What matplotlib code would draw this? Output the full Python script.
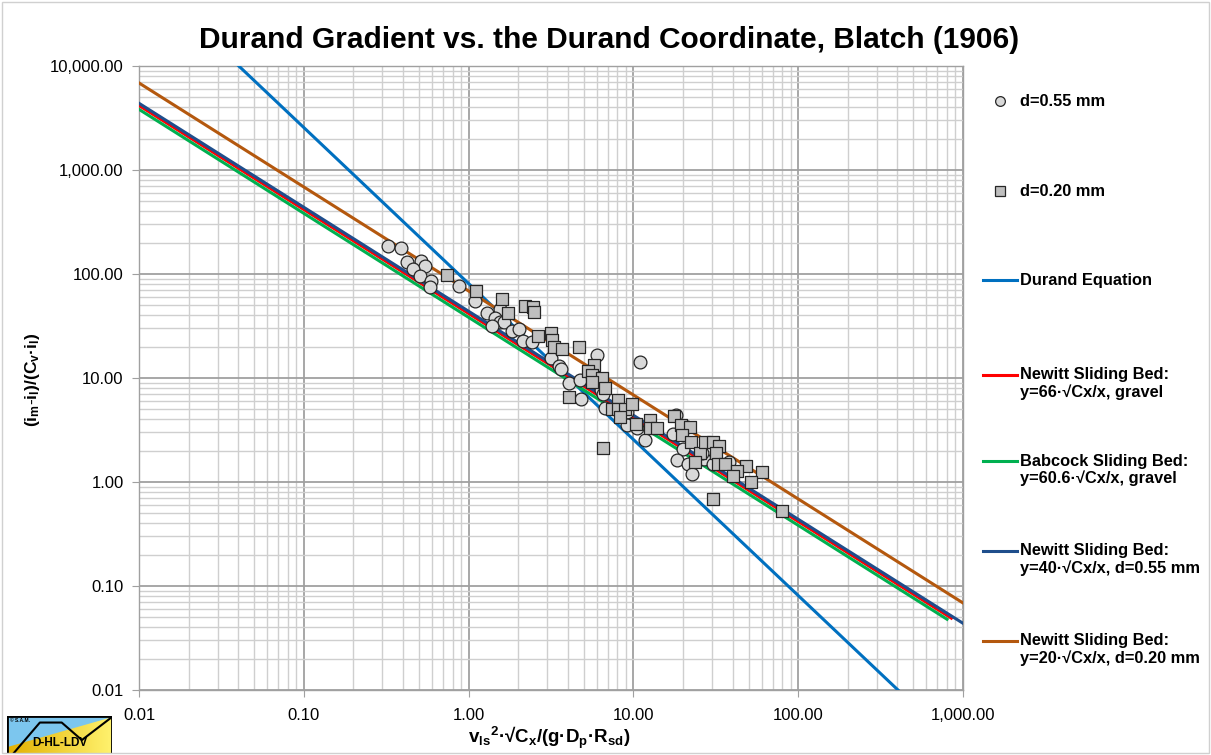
import numpy as np
import matplotlib
matplotlib.use("Agg")
import matplotlib.pyplot as plt
from matplotlib.lines import Line2D
from matplotlib.patches import Rectangle, Polygon
from matplotlib.ticker import FuncFormatter, LogLocator, NullFormatter

plt.rcParams['font.family'] = ['Liberation Sans', 'DejaVu Sans']
plt.rcParams['mathtext.fontset'] = 'custom'
plt.rcParams['mathtext.rm'] = 'Liberation Sans'
plt.rcParams['mathtext.bf'] = 'Liberation Sans:bold'

# Blatch (1906) measurements, d=0.55 mm
x_055 = [0.326, 0.389, 0.425, 0.515, 0.544, 0.458, 0.510, 0.589, 0.584, 0.875,
         1.095, 1.30, 1.54, 1.45, 1.54, 1.65, 1.39, 1.83, 2.03, 2.15, 2.42,
         3.17, 3.54, 3.64, 4.04, 4.75, 4.84, 6.0, 11.0, 6.37, 6.58, 6.74,
         9.13, 9.13, 10.5, 11.8, 18.2, 17.5, 21.1, 20.1, 18.4, 21.3, 22.7,
         26.7, 30.6, 26.1, 38.2]
y_055 = [186, 178, 131, 134, 120, 111, 96, 85.7, 75.5, 76.2,
         54.6, 42.4, 45.7, 37.4, 34.7, 34.7, 31.6, 28.2, 29.7, 22.6, 22.0,
         15.4, 13.0, 12.1, 8.86, 9.53, 6.34, 16.6, 14.3, 7.62, 6.98, 5.20,
         4.71, 3.51, 3.28, 2.56, 4.38, 2.88, 3.38, 2.09, 1.61, 1.50, 1.20,
         1.67, 1.50, 1.90, 1.56]

# d=0.20 mm
x_020 = [0.737, 1.106, 1.60, 1.745, 2.21, 2.47, 2.50, 2.62, 3.16, 3.20, 3.30,
         3.68, 4.69, 5.73, 5.34, 5.60, 6.49, 5.60, 6.74, 4.04, 8.01, 7.40,
         8.01, 8.92, 9.87, 8.32, 10.3, 6.53, 12.6, 12.6, 14.0, 17.7, 19.4,
         21.9, 19.7, 22.3, 25.4, 23.7, 27.3, 30.4, 33.3, 31.8, 32.4, 36.1,
         30.4, 48.4, 42.5, 40.2, 60.3, 51.7, 79.8]
y_020 = [97.8, 68.6, 57.0, 42.4, 49.2, 47.7, 43.0, 25.1, 26.9, 23.1, 19.9,
         18.8, 19.9, 13.3, 11.7, 10.6, 10.0, 9.16, 8.10, 6.58, 6.21, 5.08,
         5.08, 5.08, 5.68, 4.22, 3.65, 2.14, 3.92, 3.34, 3.34, 4.29, 3.51,
         3.38, 2.86, 2.42, 1.90, 1.56, 2.42, 2.42, 2.20, 1.88, 1.48, 1.48,
         0.690, 1.44, 1.27, 1.13, 1.26, 1.00, 0.525]

# model lines (end points, straight on log-log)
durand_x = [0.01, 1000]
durand_y = [81000, 0.00256]
newitt_gravel_x = [0.01, 850]
newitt_gravel_y = [4170, 0.0491]
babcock_x = [0.01, 800]
babcock_y = [3830, 0.0479]
newitt_055_x = [0.01, 1000]
newitt_055_y = [4380, 0.0438]
newitt_020_x = [0.01, 1000]
newitt_020_y = [6870, 0.0687]

W, H = 1211, 755
fig = plt.figure(figsize=(W / 100, H / 100), dpi=100)

def fx(px):
    return px / W

def fy(py):
    return 1 - py / H

ax = fig.add_axes([fx(139), fy(690), fx(963) - fx(139), fy(66) - fy(690)])

lw = 2.2
c_durand = '#0070C0'
c_red = '#FF0000'
c_green = '#00B050'
c_navy = '#1F4E8C'
c_brown = '#B4580E'
ax.plot(durand_x, durand_y, color=c_durand, lw=lw, zorder=3)
ax.plot(newitt_gravel_x, newitt_gravel_y, color=c_red, lw=lw, zorder=3)
ax.plot(babcock_x, babcock_y, color=c_green, lw=lw, zorder=3)
ax.plot(newitt_055_x, newitt_055_y, color=c_navy, lw=lw, zorder=3)
ax.plot(newitt_020_x, newitt_020_y, color=c_brown, lw=lw, zorder=3)

ax.scatter(x_055, y_055, s=85, marker='o', facecolor='#D9D9D9',
           edgecolor='#262626', linewidth=0.9, zorder=4)
ax.scatter(x_020, y_020, s=75, marker='s', facecolor='#BFBFBF',
           edgecolor='#262626', linewidth=0.9, zorder=5)

ax.set_xscale('log')
ax.set_yscale('log')
ax.set_xlim(0.01, 1000)
ax.set_ylim(0.01, 10000)

fmt = FuncFormatter(lambda v, p: f"{v:,.2f}")
for axis in (ax.xaxis, ax.yaxis):
    axis.set_major_locator(LogLocator(base=10, numticks=20))
    axis.set_minor_locator(LogLocator(base=10, subs=np.arange(2, 10), numticks=100))
    axis.set_major_formatter(fmt)
    axis.set_minor_formatter(NullFormatter())

ax.grid(True, which='major', color='#A0A0A0', lw=1.3, zorder=0)
ax.grid(True, which='minor', color='#CFCFCF', lw=1.0, zorder=0)
ax.set_axisbelow(True)
for sp in ax.spines.values():
    sp.set_color('#A0A0A0')
    sp.set_linewidth(1.0)
ax.tick_params(which='major', length=5, color='#A0A0A0', labelsize=12, pad=6)
ax.tick_params(which='minor', length=0)
ax.tick_params(axis='x', pad=8)

fig.text(fx(609), fy(40), 'Durand Gradient vs. the Durand Coordinate, Blatch (1906)',
         ha='center', va='center', fontsize=21.5, fontweight='bold')
fig.text(fx(549), fy(738), r'$\mathbf{v_{ls}{}^{2}·√C_x/(g·D_p·R_{sd})}$',
         ha='center', va='center', fontsize=13.5)
fig.text(fx(33), fy(380), r'$\mathbf{(i_m\text{-}i_l)/(C_v·i_l)}$',
         ha='center', va='center', fontsize=12.5, rotation=90)

# legend drawn in figure pixels
leg_fs = 11.8
hx0, hx1, tx = 983, 1017, 1020
fig.add_artist(Line2D([fx(1000)], [fy(101)], marker='o', ms=7, mfc='#D9D9D9',
                      mec='#262626', mew=0.9, ls='none'))
fig.text(fx(tx), fy(101), 'd=0.55 mm', fontsize=leg_fs, fontweight='bold', va='center')
fig.add_artist(Line2D([fx(1000)], [fy(191)], marker='s', ms=6.5, mfc='#BFBFBF',
                      mec='#262626', mew=0.9, ls='none'))
fig.text(fx(tx), fy(191), 'd=0.20 mm', fontsize=leg_fs, fontweight='bold', va='center')

line_entries = [
    (280, c_durand, ['Durand Equation']),
    (375, c_red, ['Newitt Sliding Bed:', 'y=66·√Cx/x, gravel']),
    (461, c_green, ['Babcock Sliding Bed:', 'y=60.6·√Cx/x, gravel']),
    (551, c_navy, ['Newitt Sliding Bed:', 'y=40·√Cx/x, d=0.55 mm']),
    (641, c_brown, ['Newitt Sliding Bed:', 'y=20·√Cx/x, d=0.20 mm']),
]
for py, col, lines in line_entries:
    fig.add_artist(Line2D([fx(hx0), fx(hx1)], [fy(py), fy(py)], color=col, lw=lw))
    for k, s in enumerate(lines):
        fig.text(fx(tx), fy(py + 17 * k), s, fontsize=leg_fs, fontweight='bold', va='center')

# chart border
fig.add_artist(Rectangle((fx(2), fy(753)), fx(1207), fy(2) - fy(753), transform=fig.transFigure,
                         fill=False, edgecolor='#D0D0D0', lw=1.0))

# logo
lax = fig.add_axes([fx(7), fy(754), fx(105), fy(716) - fy(754)])
lax.set_xlim(0, 1)
lax.set_ylim(0, 1)
lax.axis('off')
lax.add_patch(Rectangle((0, 0), 1, 1, facecolor='#7CC6EE', edgecolor='none', zorder=1))
grad = np.linspace(0, 1, 100).reshape(1, -1)
im = lax.imshow(grad, extent=(0, 1, 0, 1), aspect='auto', zorder=2,
                cmap=matplotlib.colors.LinearSegmentedColormap.from_list('y', ['#E2B000', '#FFF26E']))
tri = Polygon([(0, 0), (0, 0.18), (1, 0.97), (1, 0)], closed=True, facecolor='none',
              edgecolor='none', transform=lax.transData)
lax.add_patch(tri)
im.set_clip_path(tri)
lax.plot([0.057, 0.313, 0.521, 0.713, 0.984], [0, 0.828, 0.828, 0.367, 0.94],
         color='black', lw=1.5, zorder=3)
lax.add_patch(Rectangle((0, 0), 1, 1, fill=False, edgecolor='black', lw=2, zorder=4))
lax.text(0.03, 0.87, '© S.A.M.', fontsize=3.5, fontweight='bold', va='center', zorder=5)
lax.text(0.5, 0.3, 'D-HL-LDV', fontsize=8.5, fontweight='bold', ha='center', va='center', zorder=5)

fig.savefig('out.png', dpi=100)
